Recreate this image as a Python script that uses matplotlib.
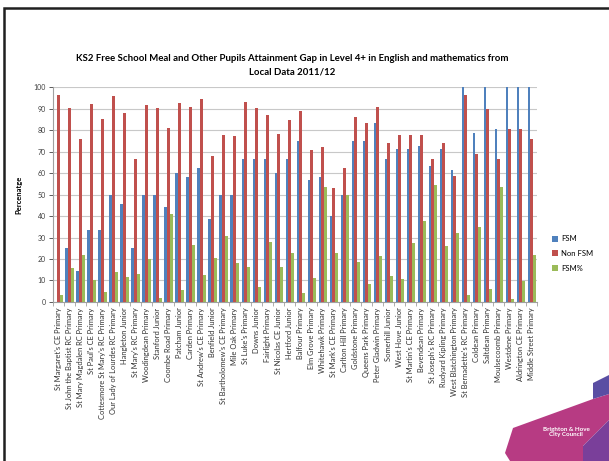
import numpy as np
import matplotlib.pyplot as plt
from matplotlib.patches import Polygon, Rectangle

plt.rcParams['font.family'] = ['Lato', 'DejaVu Sans']

# Schulen und Werte
schools = [
    "St Margaret's CE Primary", "St John the Baptist RC Primary", "St Mary Magdalen RC Primary",
    "St Paul's CE Primary", "Cottesmore St Mary's RC Primary", "Our Lady of Lourdes RC Primary",
    "Hangleton Junior", "St Mary's RC Primary", "Woodingdean Primary", "Stanford Junior",
    "Coombe Road Primary", "Patcham Junior", "Carden Primary", "St Andrew's CE Primary",
    "Benfield Junior", "St Bartholomew's CE Primary", "Mile Oak Primary", "St Luke's Primary",
    "Downs Junior", "Fairlight Primary", "St Nicolas CE Junior", "Hertford Junior",
    "Balfour Primary", "Elm Grove Primary", "Whitehawk Primary", "St Mark's CE Primary",
    "Carlton Hill Primary", "Goldstone Primary", "Queens Park Primary", "Peter Gladwin Primary",
    "Somerhill Junior", "West Hove Junior", "St Martin's CE Primary", "Bevendean Primary",
    "St Joseph's RC Primary", "Rudyard Kipling Primary", "West Blatchington Primary",
    "St Bernadette's RC Primary", "Coldean Primary", "Saltdean Primary", "Moulsecoomb Primary",
    "Westdene Primary", "Aldrington CE Primary", "Middle Street Primary",
]
fsm = [0, 25, 14.3, 33.3, 33.3, 50, 45.4, 25, 50, 50,
       44.4, 60, 58.3, 62.5, 38.5, 50, 50, 66.7, 66.7, 66.7,
       60, 66.7, 75, 57, 58.3, 40, 50, 75, 75, 83.3,
       66.7, 71.4, 71.4, 72.8, 63.5, 71.2, 61.5, 100, 78.6, 100,
       80.6, 100, 100, 100]
non_fsm = [96.5, 90.3, 76, 92.3, 85.3, 95.8, 88, 66.7, 91.5, 90.3,
           80.8, 92.8, 90.9, 94.7, 67.8, 77.6, 77.3, 93.3, 90.3, 86.9,
           78.4, 84.9, 89, 70.7, 71.9, 52.9, 62.3, 86.2, 83.1, 90.8,
           73.8, 77.7, 77.6, 77.6, 66.6, 74.1, 58.8, 96.4, 69, 89.8,
           66.6, 80.6, 80.6, 75.9]
fsm_pct = [3.3, 16, 22, 10, 4.6, 13.8, 11.5, 13, 20, 2,
           41, 5.5, 26.5, 12.4, 20.5, 30.6, 18.3, 16.4, 6.8, 27.9,
           16.1, 22.9, 4, 11, 53.6, 22.6, 50, 18.4, 8.5, 21.2,
           12.1, 10.8, 27.6, 37.6, 54.6, 26, 32.2, 3.1, 34.7, 6.2,
           53.6, 1.2, 9.9, 21.7]

c_fsm = '#4F81BD'
c_non = '#C0504D'
c_pct = '#9BBB59'

fig = plt.figure(figsize=(6.09, 4.61), dpi=100)
ax = fig.add_axes([0.087, 0.345, 0.795, 0.466])

x = np.arange(len(schools))
w = 0.245
ax.bar(x - w, fsm, w, color=c_fsm, label='FSM', zorder=3)
ax.bar(x, non_fsm, w, color=c_non, label='Non FSM', zorder=3)
ax.bar(x + w, fsm_pct, w, color=c_pct, label='FSM%', zorder=3)

ax.set_xlim(-0.5, len(schools) - 0.5)
ax.set_ylim(0, 100)
ax.set_yticks(range(0, 101, 10))
ax.yaxis.grid(True, color='#C8C8C8', linewidth=0.8, zorder=0)
ax.tick_params(axis='y', labelsize=5, colors='#404040', length=3, width=0.6, pad=2)
for s in ['top', 'right']:
    ax.spines[s].set_visible(False)
for s in ['left', 'bottom']:
    ax.spines[s].set_color('#A0A0A0')
    ax.spines[s].set_linewidth(0.8)

# Kategorienamen, Ticks zwischen den Gruppen
ax.set_xticks(x)
ax.set_xticklabels(schools, rotation=90, fontsize=5.4, color='#303030')
ax.tick_params(axis='x', length=0, pad=4)
ax.set_xticks(np.arange(-0.5, len(schools), 1), minor=True)
ax.tick_params(axis='x', which='minor', length=3, width=0.6, color='#A0A0A0')

ax.set_ylabel('Percenatge', fontsize=5.5, fontweight='bold', labelpad=8)

fig.text(0.48, 0.873, 'KS2 Free School Meal and Other Pupils Attainment Gap in Level 4+ in English and mathematics from',
         ha='center', va='center', fontsize=6.9, fontweight='bold')
fig.text(0.48, 0.843, 'Local Data 2011/12', ha='center', va='center', fontsize=6.9, fontweight='bold')

fig.legend(loc='center left', bbox_to_anchor=(0.895, 0.45), frameon=False, fontsize=5.5,
           handlelength=0.8, handleheight=0.8, labelspacing=1.0, handletextpad=0.4)

# Rahmen oben und links
fig.patches.append(Rectangle((4 / 609, -0.1), 1.2, 1 - 8 / 461 + 0.1, transform=fig.transFigure,
                             fill=False, edgecolor='#202020', linewidth=1.8, zorder=0))

# Logo unten rechts (grob)
def px(pts):
    return [(a / 609, 1 - b / 461) for a, b in pts]

fig.patches.append(Polygon(px([(513, 428), (593, 399), (609, 394), (609, 420), (583, 446),
                               (583, 461), (510, 461), (505, 453)]),
                           transform=fig.transFigure, facecolor='#B73B83', edgecolor='none'))
fig.patches.append(Polygon(px([(593, 383), (609, 375), (609, 394), (593, 399)]),
                           transform=fig.transFigure, facecolor='#5A4EA3', edgecolor='none'))
fig.patches.append(Polygon(px([(583, 446), (609, 420), (609, 461), (583, 461)]),
                           transform=fig.transFigure, facecolor='#7A3F9A', edgecolor='none'))
fig.text(566 / 609, 1 - 432 / 461, 'Brighton & Hove\nCity Council', ha='center', va='center',
         fontsize=4.5, fontweight='bold', color='white', linespacing=0.9)

plt.savefig('out.png', dpi=100)
